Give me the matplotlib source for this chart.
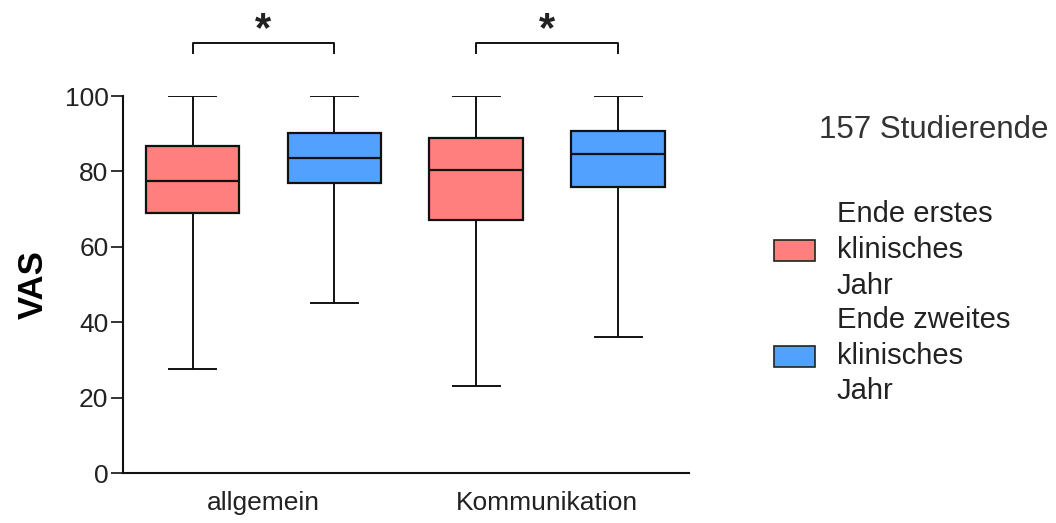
import numpy as np
import matplotlib as mpl
mpl.use('Agg')
import matplotlib.pyplot as plt
from matplotlib.patches import Patch

plt.rcParams['font.family'] = ['Liberation Sans', 'DejaVu Sans']

# data (VAS)
categories = ["allgemein", "Kommunikation"]
series = ["Ende erstes\nklinisches\nJahr", "Ende zweites\nklinisches\nJahr"]
colors = ["#FF7F7F", "#52A0FF"]
whislo = [[27.7, 23.1], [45.0, 36.0]]
q1 = [[68.9, 67.0], [76.9, 75.9]]
med = [[77.4, 80.4], [83.5, 84.5]]
q3 = [[86.8, 88.8], [90.3, 90.8]]
whishi = [[100, 100], [100, 100]]
sig = ["*", "*"]
n_label = "157 Studierende"

fig = plt.figure(figsize=(10.56, 5.23), dpi=100)
ax = fig.add_axes([0.1165, 0.0956, 0.536, 0.7208])

offset = 0.25
width = 0.33
for s in range(2):
    stats = []
    pos = []
    for c in range(2):
        stats.append({"whislo": whislo[s][c], "q1": q1[s][c], "med": med[s][c],
                      "q3": q3[s][c], "whishi": whishi[s][c], "fliers": []})
        pos.append(c + 1 + (s - 0.5) * 2 * offset)
    ax.bxp(stats, positions=pos, widths=width, patch_artist=True, showfliers=False,
           capwidths=width / 2,
           boxprops=dict(facecolor=colors[s], edgecolor="#111111", linewidth=1.6),
           medianprops=dict(color="#111111", linewidth=1.6),
           whiskerprops=dict(color="#111111", linewidth=1.4),
           capprops=dict(color="#111111", linewidth=1.4))

# significance brackets
for c in range(2):
    x0 = c + 1 - offset
    x1 = c + 1 + offset
    ax.plot([x0, x0, x1, x1], [111.5, 114, 114, 111.5], color="#111111",
            linewidth=1.4, clip_on=False)
    ax.text(c + 1, 117.5, sig[c], ha="center", va="center", fontsize=30,
            fontweight="bold", color="#222222")

ax.set_xlim(0.505, 2.5)
ax.set_ylim(0, 100)
ax.set_yticks([0, 20, 40, 60, 80, 100])
ax.set_xticks([1, 2])
ax.set_xticklabels(categories)
ax.spines['top'].set_visible(False)
ax.spines['right'].set_visible(False)
for sp in ['left', 'bottom']:
    ax.spines[sp].set_linewidth(1.5)
    ax.spines[sp].set_color("#111111")
ax.tick_params(axis='y', length=8.5, width=1.2, pad=2, labelsize=19, colors="#111111",
               labelcolor="#222222")
ax.tick_params(axis='x', length=0, pad=13, labelsize=19, labelcolor="#222222")
ax.set_ylabel("VAS", fontsize=25, fontweight="bold", labelpad=11)

fig.text(0.776, 0.752, n_label, fontsize=22.5, color="#333333", va="center")

handles = [Patch(facecolor=colors[i], edgecolor="#222222", linewidth=1.2) for i in range(2)]
leg = fig.legend(handles, series, loc="upper left", bbox_to_anchor=(0.722, 0.64),
                 frameon=False, fontsize=21, handlelength=1.4, handleheight=0.7,
                 handletextpad=0.75, labelspacing=0.2, borderaxespad=0)
for t in leg.get_texts():
    t.set_linespacing(1.36)
    t.set_color("#222222")

plt.savefig("out.png", dpi=100)
